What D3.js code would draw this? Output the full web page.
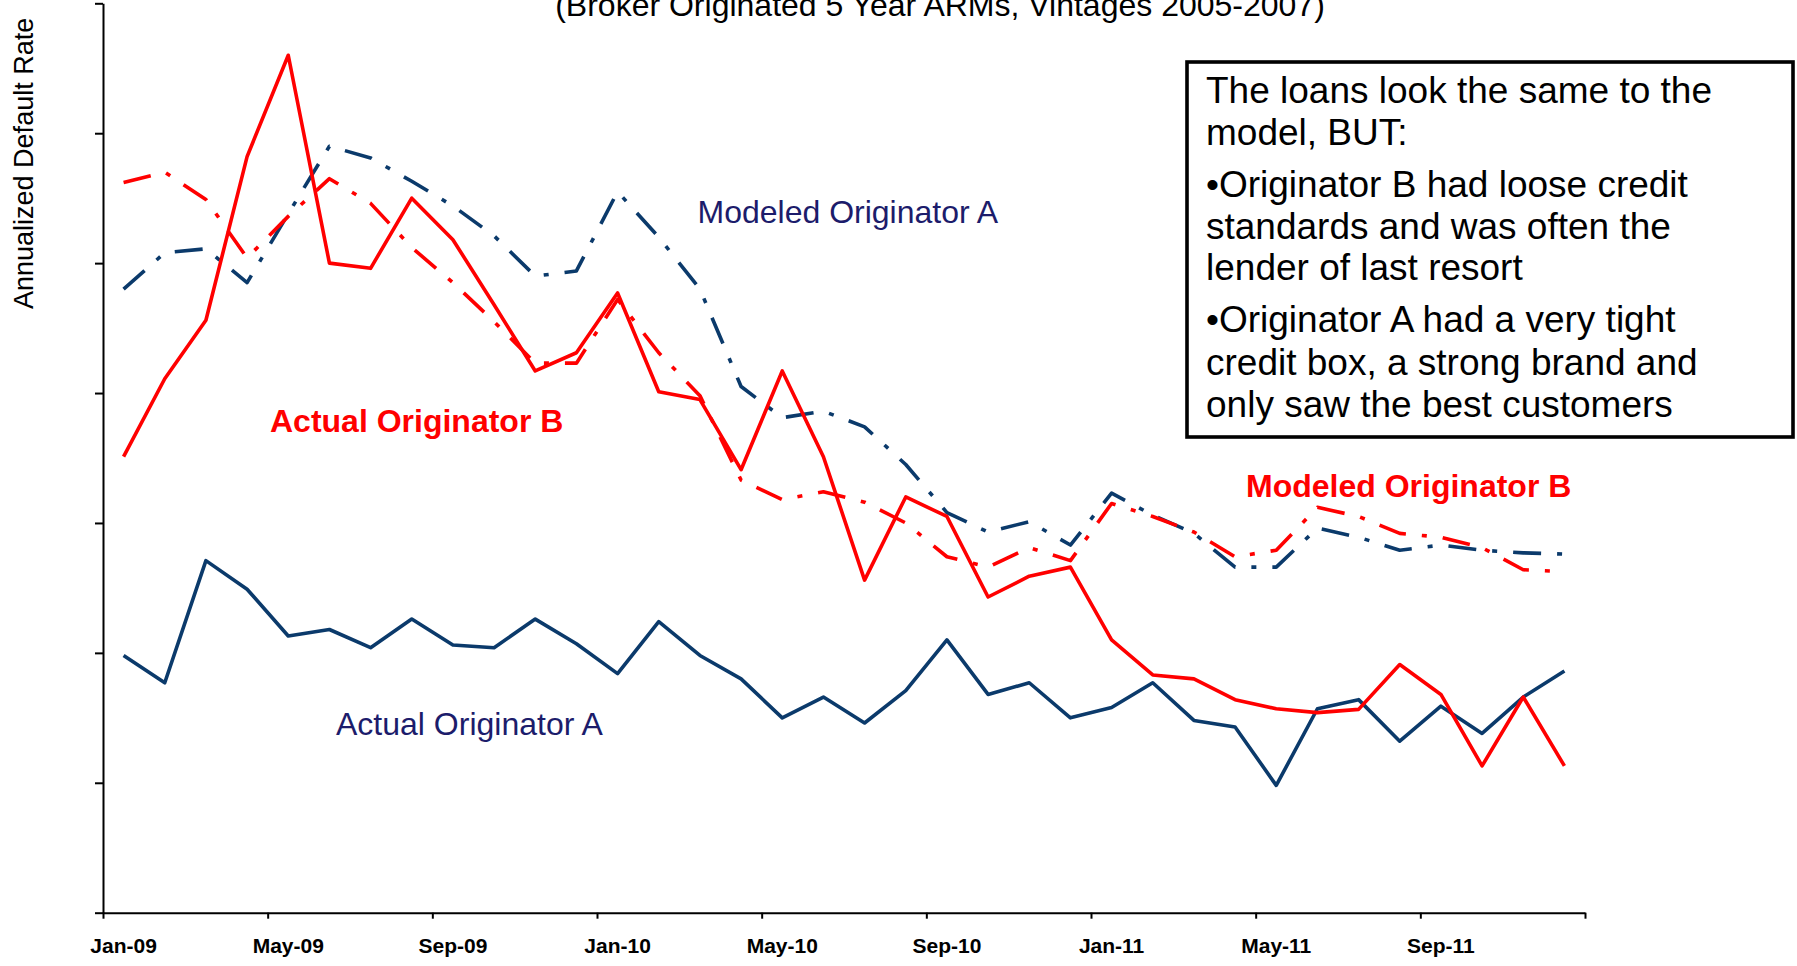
<!DOCTYPE html>
<html><head><meta charset="utf-8">
<script src="https://cdn.jsdelivr.net/npm/d3@7"></script>
<style>
body{margin:0;background:#fff;}
text{font-family:"Liberation Sans",Arial,sans-serif;}
</style>
</head><body>
<svg id="c" width="1797" height="966"></svg>
<script>
const months = ["Jan-09","Feb-09","Mar-09","Apr-09","May-09","Jun-09","Jul-09","Aug-09","Sep-09","Oct-09","Nov-09","Dec-09",
  "Jan-10","Feb-10","Mar-10","Apr-10","May-10","Jun-10","Jul-10","Aug-10","Sep-10","Oct-10","Nov-10","Dec-10",
  "Jan-11","Feb-11","Mar-11","Apr-11","May-11","Jun-11","Jul-11","Aug-11","Sep-11","Oct-11","Nov-11","Dec-11"];
const actualA = [1.98,1.77,2.71,2.49,2.13,2.18,2.04,2.26,2.06,2.04,2.26,2.07,1.84,2.24,1.98,1.80,1.50,1.66,1.46,1.71,2.10,1.68,1.77,1.50,1.58,1.77,1.48,1.43,0.98,1.57,1.64,1.32,1.59,1.38,1.66,1.86];
const actualB = [3.51,4.11,4.56,5.82,6.60,5.00,4.96,5.50,5.18,4.68,4.17,4.31,4.77,4.01,3.95,3.41,4.17,3.51,2.56,3.20,3.05,2.43,2.59,2.66,2.10,1.83,1.80,1.64,1.57,1.54,1.565,1.91,1.68,1.13,1.66,1.13];
const modeledA = [4.80,5.08,5.11,4.85,5.38,5.90,5.81,5.63,5.44,5.21,4.90,4.94,5.55,5.20,4.80,4.05,3.81,3.86,3.74,3.45,3.08,2.93,3.01,2.83,3.23,3.06,2.92,2.66,2.66,2.96,2.89,2.79,2.83,2.79,2.77,2.76];
const modeledB = [5.62,5.70,5.49,5.04,5.36,5.65,5.46,5.12,4.85,4.55,4.23,4.23,4.72,4.31,3.98,3.33,3.18,3.24,3.16,3.00,2.74,2.66,2.81,2.71,3.15,3.05,2.93,2.74,2.79,3.12,3.05,2.92,2.89,2.81,2.64,2.625];
const xTickLabels = ["Jan-09","May-09","Sep-09","Jan-10","May-10","Sep-10","Jan-11","May-11","Sep-11"];
const xTickBoundaries = [0,4,8,12,16,20,24,28,32,36];
const yTicks = [0,1,2,3,4,5,6,7];
const title = "(Broker Originated 5 Year ARMs, Vintages 2005-2007)";
const yLabel = "Annualized Default Rate";
const noteLines = ["The loans look the same to the","model, BUT:","\u2022Originator B had loose credit","standards and was often the","lender of last resort","\u2022Originator A had a very tight","credit box, a strong brand and","only saw the best customers"];
const noteBaselines = [103,145,197,238.5,280,332,375,417];

const NAVY = "#0b3a6b", RED = "#ff0000", LABELNAVY = "#1c1c6b";
const svg = d3.select("#c");
svg.append("rect").attr("width",1797).attr("height",966).attr("fill","#fff");

const x = d3.scaleBand().domain(months).range([103,1585]).padding(0);
const xi = d3.scaleLinear().domain([0,36]).range([103,1585]);
const y = d3.scaleLinear().domain([0,7]).range([912.7,3.3]);
const bw = x.bandwidth();

// title
svg.append("text").attr("x",940).attr("y",16).attr("text-anchor","middle")
  .attr("font-size",32).attr("fill","#000").text(title);

// y label
svg.append("text").attr("transform","translate(33,163.4) rotate(-90)").attr("text-anchor","middle")
  .attr("font-size",27).attr("fill","#000").text(yLabel);

// axes
const gy = svg.append("g").attr("transform","translate(103,0)")
  .call(d3.axisLeft(y).tickValues(yTicks).tickSize(8).tickSizeOuter(0).tickFormat(""));
const gx = svg.append("g").attr("transform","translate(0,912.7)")
  .call(d3.axisBottom(xi).tickValues(xTickBoundaries).tickSize(6).tickSizeOuter(0).tickFormat(""));
[gy,gx].forEach(g=>{
  g.selectAll("path,line").attr("stroke","#000").attr("stroke-width",2);
});
svg.append("g").selectAll("text").data(xTickLabels).join("text")
  .attr("x",d=>x(d)+bw/2).attr("y",953).attr("text-anchor","middle")
  .attr("font-size",21).attr("font-weight","bold").attr("fill","#000").text(d=>d);

// series
const series = [
  {vals: actualA, color: NAVY, dash: null},
  {vals: modeledA, color: NAVY, dash: "28,16,5,16"},
  {vals: modeledB, color: RED, dash: "28,16,5,16"},
  {vals: actualB, color: RED, dash: null}
];
const line = d3.line().x((d,i)=>x(months[i])+bw/2).y(d=>y(d));
svg.append("g").selectAll("path").data(series).join("path")
  .attr("d",d=>line(d.vals)).attr("fill","none")
  .attr("stroke",d=>d.color).attr("stroke-width",3.6)
  .attr("stroke-linejoin","round")
  .attr("stroke-dasharray",d=>d.dash);

// series labels
const labels = [
  {t:"Modeled Originator A", x:697.5, y:222.7, c:LABELNAVY, w:"normal"},
  {t:"Actual Originator A", x:336, y:735, c:LABELNAVY, w:"normal"},
  {t:"Actual Originator B", x:270, y:432, c:RED, w:"bold"},
  {t:"Modeled Originator B", x:1246, y:497, c:RED, w:"bold"}
];
svg.append("g").selectAll("text").data(labels).join("text")
  .attr("x",d=>d.x).attr("y",d=>d.y).attr("font-size",32)
  .attr("font-weight",d=>d.w).attr("fill",d=>d.c).text(d=>d.t);

// note box
svg.append("rect").attr("x",1187).attr("y",62).attr("width",606).attr("height",375)
  .attr("fill","#fff").attr("stroke","#000").attr("stroke-width",3.6);
svg.append("g").selectAll("text").data(noteLines).join("text")
  .attr("x",1206).attr("y",(d,i)=>noteBaselines[i]).attr("font-size",37)
  .attr("fill","#000").text(d=>d);
</script>
</body></html>
